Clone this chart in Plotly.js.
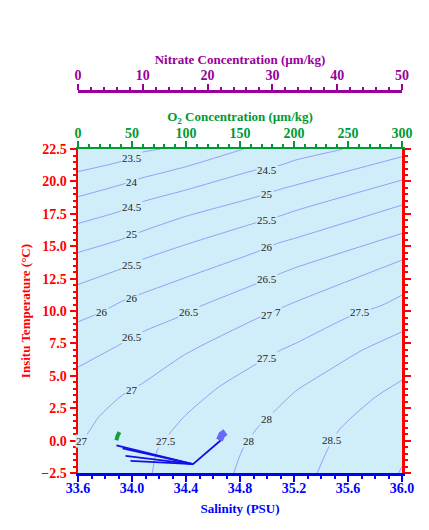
<!DOCTYPE html>
<html>
<head>
<meta charset="utf-8">
<script src="https://cdn.plot.ly/plotly-3.0.1.min.js"></script>
<style>
  body { margin: 0; background: #fff; }
  #tsPlot { width: 429px; height: 530px; }
</style>
</head>
<body>
<div id="tsPlot"></div>
<script>
// density (sigma) contour lines: salinity / temperature pairs
const s23_5 = [33.6, 33.927, 34.076, 34.211];
const t23_5 = [20.76, 21.57, 22.25, 22.5];
const s24 = [33.6, 33.927, 34.063, 34.396, 34.826];
const t24 = [18.82, 19.77, 20.24, 21.13, 22.5];
const s24_5 = [33.6, 33.915, 34.076, 34.396, 34.915, 35.1, 35.211, 35.532, 35.56];
const t24_5 = [16.76, 17.71, 18.43, 19.33, 20.88, 21.26, 21.65, 22.42, 22.5];
const s25 = [33.6, 33.927, 34.063, 34.396, 34.927, 35.076, 35.211, 36.0];
const t25 = [14.52, 15.55, 16.11, 17.30, 18.82, 19.33, 19.72, 21.91];
const s25_5 = [33.6, 33.927, 34.063, 34.396, 34.927, 35.1, 35.211, 36.0];
const t25_5 = [12.05, 13.29, 13.93, 15.12, 16.84, 17.35, 17.75, 20.11];
const s26 = [33.6, 33.779, 33.927, 34.076, 34.396, 34.927, 35.076, 35.211, 36.0];
const t26 = [9.16, 9.95, 10.76, 11.36, 12.58, 14.57, 15.22, 15.63, 18.18];
const s26_5 = [33.6, 33.902, 34.076, 34.347, 34.495, 34.927, 35.1, 35.211, 36.0];
const t26_5 = [5.67, 7.37, 8.39, 9.55, 10.32, 12.13, 12.90, 13.35, 15.99];
const s27 = [33.6, 33.668, 33.754, 33.927, 34.076, 34.396, 34.927, 35.211, 36.0];
const t27 = [-0.43, 0.49, 1.83, 3.50, 4.41, 6.67, 9.43, 10.71, 13.93];
const s27_5 = [34.150, 34.187, 34.298, 34.396, 34.643, 34.927, 35.1, 35.211, 35.606, 35.853, 36.0];
const t27_5 = [-2.5, -0.74, 0.80, 1.96, 4.14, 5.95, 6.98, 7.50, 9.55, 10.45, 11.23];
const s28 = [34.754, 34.816, 34.927, 35.063, 35.211, 35.458, 35.705, 36.0];
const t28 = [-2.5, -0.74, 0.96, 2.35, 3.81, 5.43, 6.98, 8.39];
const s28_5 = [35.372, 35.446, 35.532, 35.631, 35.804, 36.0];
const t28_5 = [-2.5, -0.74, 0.80, 1.83, 3.37, 4.66];
const s29 = [35.975, 36.0];
const t29 = [-2.5, -2.0];

// contour labels
const labelText = ['23.5', '24', '24.5', '25', '25.5', '26', '26', '26.5', '26.5', '27', '27', '27.5',
                   '24.5', '25', '25.5', '26', '26.5', '27', '7', '27.5', '28', '28', '27.5', '28.5'];
const labelSal = [34.0, 34.0, 34.0, 34.0, 34.0, 34.0, 33.78, 34.0, 34.42, 34.0, 33.63, 34.25,
                  35.0, 35.0, 35.0, 35.0, 35.0, 35.0, 35.08, 35.0, 35.0, 34.865, 35.69, 35.48];
const labelTemp = [21.83, 19.95, 18.04, 15.91, 13.54, 10.97, 9.94, 8.01, 9.91, 3.94, -0.05, -0.05,
                   20.90, 19.03, 17.04, 14.91, 12.44, 9.70, 9.91, 6.41, 1.63, -0.02, 9.91, 0.03];

// CTD profile (salinity vs temperature)
const ctdSal = [33.885, 34.452, null, 33.93, 34.452, null, 33.952, 34.452, null, 33.989, 34.452, 34.66];
const ctdTemp = [-0.36, -1.82, null, -0.60, -1.82, null, -1.18, -1.82, null, -1.56, -1.82, 0.05];
const deepSal = [34.648, 34.665, 34.693];
const deepTemp = [0.03, 0.45, 0.65];

// oxygen vs temperature
const oxy = [35.6, 36.5, 38.4];
const oxyTemp = [0.03, 0.34, 0.65];

const contours = [
    [s23_5, t23_5], [s24, t24], [s24_5, t24_5], [s25, t25], [s25_5, t25_5], [s26, t26],
    [s26_5, t26_5], [s27, t27], [s27_5, t27_5], [s28, t28], [s28_5, t28_5], [s29, t29]
];

const bg = 'rgb(208,238,249)';
const serif = 'Liberation Serif, Times New Roman, serif';
const blue = '#0000ff', red = '#ff0000', green = '#009933', purple = '#990099';

let data = [];

contours.forEach(function(c) {
    data.push({
        x: c[0],
        y: c[1],
        type: 'scatter',
        mode: 'lines',
        line: {color: 'rgb(140,150,245)', width: 0.9, shape: 'spline', smoothing: 0.6},
        hoverinfo: 'skip',
    });
});

data.push({
    x: ctdSal,
    y: ctdTemp,
    type: 'scatter',
    mode: 'lines',
    line: {color: '#1010e8', width: 1.8},
});
data.push({
    x: deepSal,
    y: deepTemp,
    type: 'scatter',
    mode: 'lines',
    line: {color: 'rgb(105,105,250)', width: 7},
});
data.push({
    x: oxy,
    y: oxyTemp,
    xaxis: 'x2',
    type: 'scatter',
    mode: 'lines',
    line: {color: '#11a040', width: 4},
});
// keeps the nitrate axis alive
data.push({x: [0], y: [-10], xaxis: 'x3', type: 'scatter', mode: 'lines', hoverinfo: 'skip'});

let annotations = labelText.map(function(t, i) {
    return {
        x: labelSal[i],
        y: labelTemp[i],
        text: t,
        showarrow: false,
        bgcolor: bg,
        borderpad: 0,
        font: {family: serif, size: 11, color: '#222'},
    };
});

function axisFont(color, size) {
    return {family: serif, size: size || 13, color: color, weight: 'bold'};
}

let layout = {
    width: 429,
    height: 530,
    margin: {l: 78, r: 27, t: 91, b: 57},
    paper_bgcolor: '#fff',
    plot_bgcolor: bg,
    showlegend: false,
    xaxis: {
        range: [33.6, 36.0],
        tick0: 33.6,
        dtick: 0.4,
        tickformat: '.1f',
        ticks: 'outside',
        ticklen: 6,
        tickwidth: 2,
        tickcolor: blue,
        showline: true,
        linecolor: blue,
        linewidth: 2.5,
        showgrid: false,
        zeroline: false,
        tickfont: axisFont(blue, 14),
        ticklabelstandoff: -5,
        minor: {dtick: 0.1, ticks: 'outside', ticklen: 3, tickwidth: 2, tickcolor: blue, showgrid: false},
        title: {text: 'Salinity (PSU)', font: axisFont(blue), standoff: 9},
    },
    xaxis2: {
        overlaying: 'x',
        side: 'top',
        anchor: 'y',
        range: [0, 300],
        tick0: 0,
        dtick: 50,
        ticks: 'outside',
        ticklen: 6,
        tickwidth: 2,
        tickcolor: green,
        showline: true,
        linecolor: green,
        linewidth: 2.5,
        showgrid: false,
        zeroline: false,
        tickfont: axisFont(green, 14),
        ticklabelstandoff: -3,
        minor: {dtick: 10, ticks: 'outside', ticklen: 3, tickwidth: 2, tickcolor: green, showgrid: false},
        title: {text: 'O<sub>2</sub> Concentration (\u00b5m/kg)', font: axisFont(green), standoff: 1},
    },
    xaxis3: {
        overlaying: 'x',
        side: 'top',
        anchor: 'free',
        position: 1,
        range: [0, 50],
        tick0: 0,
        dtick: 10,
        ticks: 'outside',
        ticklen: 6,
        tickwidth: 2,
        tickcolor: purple,
        showline: true,
        linecolor: purple,
        linewidth: 2.5,
        showgrid: false,
        zeroline: false,
        tickfont: axisFont(purple, 14),
        ticklabelstandoff: -2,
        minor: {dtick: 2, ticks: 'outside', ticklen: 3, tickwidth: 2, tickcolor: purple, showgrid: false},
        title: {text: 'Nitrate Concentration (\u00b5m/kg)', font: axisFont(purple), standoff: 0},
    },
    yaxis: {
        domain: [0, 0.848],
        range: [-2.5, 22.5],
        tick0: 0,
        dtick: 2.5,
        tickformat: '.1f',
        ticks: 'outside',
        ticklen: 6,
        tickwidth: 2,
        tickcolor: red,
        showline: true,
        mirror: 'ticks',
        linecolor: red,
        linewidth: 2.5,
        showgrid: false,
        zeroline: false,
        tickfont: axisFont(red, 14),
        minor: {dtick: 0.5, ticks: 'outside', ticklen: 3, tickwidth: 2, tickcolor: red, showgrid: false},
        title: {text: 'Insitu Temperature (\u00b0C)', font: axisFont(red), standoff: 8},
    },
    annotations: annotations,
};

Plotly.newPlot('tsPlot', data, layout, {staticPlot: true});
</script>
</body>
</html>
